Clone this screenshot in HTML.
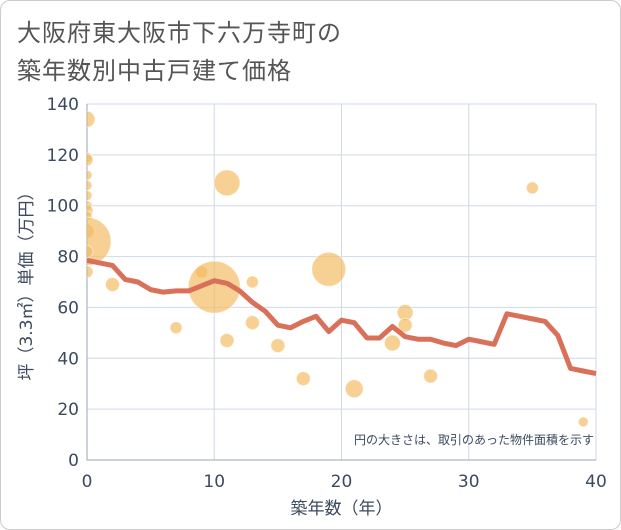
<!DOCTYPE html>
<html><head><meta charset="utf-8"><style>
body{margin:0;background:#fff;}
#wrap{position:relative;width:621px;height:530px;font-family:"Liberation Sans","Noto Sans CJK JP",sans-serif;}
#frame{position:absolute;left:0;top:0;width:619px;height:528px;border:1px solid #ccc;border-radius:10px;}
.title{position:absolute;left:17px;font-size:24px;color:#555;letter-spacing:1px;}
</style></head><body>
<div id="wrap">
<div id="frame"></div>
<div class="title" style="top:13px">大阪府東大阪市下六万寺町の</div>
<div class="title" style="top:51px">築年数別中古戸建て価格</div>
<svg id="chart" width="621" height="530" style="position:absolute;left:0;top:0;font-family:'DejaVu Sans','Noto Sans CJK JP',sans-serif"></svg>
</div>
<script>
const xTicks=[0,10,20,30,40];
const yTicks=[0,20,40,60,80,100,120,140];
const lineYears=[0,1,2,3,4,5,6,7,8,9,10,11,12,13,14,15,16,17,18,19,20,21,22,23,24,25,26,27,28,29,30,31,32,33,34,35,36,37,38,39,40];
const lineValues=[78.5,77.5,76.5,71,70,67,66,66.5,66.5,68.5,70.5,69.5,66.5,62,58.5,53,52,54.5,56.5,50.5,55,54,48,48,52.5,48.5,47.5,47.5,46,45,47.5,46.5,45.5,57.5,56.5,55.5,54.5,49,36,35,34];
const bubbleYears=[0,0,0,0,0,0,0,0,0,0,0,0,0,2,7,9,10,11,11,13,13,15,17,19,21,24,25,25,27,35,39];
const bubbleValues=[134,119,118,112,108,104,100,98,96,90,86,82,74,69,52,74,68,109,47,70,54,45,32,75,28,46,58,53,33,107,15];
const bubbleSizes=[8,5,6,5,5,5,5,6,5,7,24,6,6,7,6,6,26,13,7,6,7,7,7,17,9,8,8,7,7,6,5];
const L=87,R=596,T=104,B=460;
const sx=v=>L+(v-0)/(40-0)*(R-L);
const sy=v=>B-(v/140)*(B-T);
const svg=document.getElementById('chart');
const NS='http://www.w3.org/2000/svg';
function mk(t,a){const e=document.createElementNS(NS,t);for(const k in a)e.setAttribute(k,a[k]);svg.appendChild(e);return e;}
const defs=mk('clipPath',{id:'clip'});
const cr=document.createElementNS(NS,'rect');cr.setAttribute('x',L);cr.setAttribute('y',T);cr.setAttribute('width',R-L);cr.setAttribute('height',B-T);defs.appendChild(cr);
yTicks.forEach(v=>{
 const g=mk('line',{x1:L,x2:R,y1:sy(v),y2:sy(v),stroke:'#cfd9e8','stroke-width':1});
 
 
 const t=mk('text',{x:L-8,y:sy(v)+6,'text-anchor':'end','font-size':17,fill:'#3b4a5e'});
 t.textContent=v;
 
 
});
xTicks.forEach(v=>{
 const g=mk('line',{x1:sx(v),x2:sx(v),y1:T,y2:B,stroke:'#cfd9e8','stroke-width':1});
 
 
 const t=mk('text',{x:sx(v),y:B+27,'text-anchor':'middle','font-size':17,fill:'#3b4a5e'});
 t.textContent=v;
 
 
});
const ax=mk('path',{d:`M${L},${T}V${B}H${R}`,fill:'none',stroke:'#9aa5b4','stroke-width':1});


const bg=mk('g',{'clip-path':'url(#clip)'});
bubbleYears.forEach((yr,i)=>{
 const c=document.createElementNS(NS,'circle');
 c.setAttribute('cx',sx(yr));c.setAttribute('cy',sy(bubbleValues[i]));c.setAttribute('r',bubbleSizes[i]);
 c.setAttribute('fill','#f3b95a');c.setAttribute('fill-opacity','0.65');c.setAttribute('stroke','#fff');c.setAttribute('stroke-opacity','0.5');
 
 
 bg.appendChild(c);
});
const pts=lineYears.map((y,i)=>sx(y)+','+sy(lineValues[i])).join(' ');
const pl=mk('polyline',{points:pts,fill:'none',stroke:'#d9705a','stroke-width':5,'stroke-linejoin':'round'});


const note=mk('text',{x:594,y:444,'text-anchor':'end','font-size':12,fill:'#3b4a5e'});
note.textContent='円の大きさは、取引のあった物件面積を示す';


const xt=mk('text',{x:(L+R)/2,y:514,'text-anchor':'middle','font-size':17,fill:'#3b4a5e'});
xt.textContent='築年数（年）';


const yt=mk('text',{x:0,y:0,'text-anchor':'middle','font-size':17,fill:'#3b4a5e',transform:`translate(32,${(T+B)/2}) rotate(-90)`});
yt.textContent='坪（3.3㎡）単価（万円）';


</script>
</body></html>
